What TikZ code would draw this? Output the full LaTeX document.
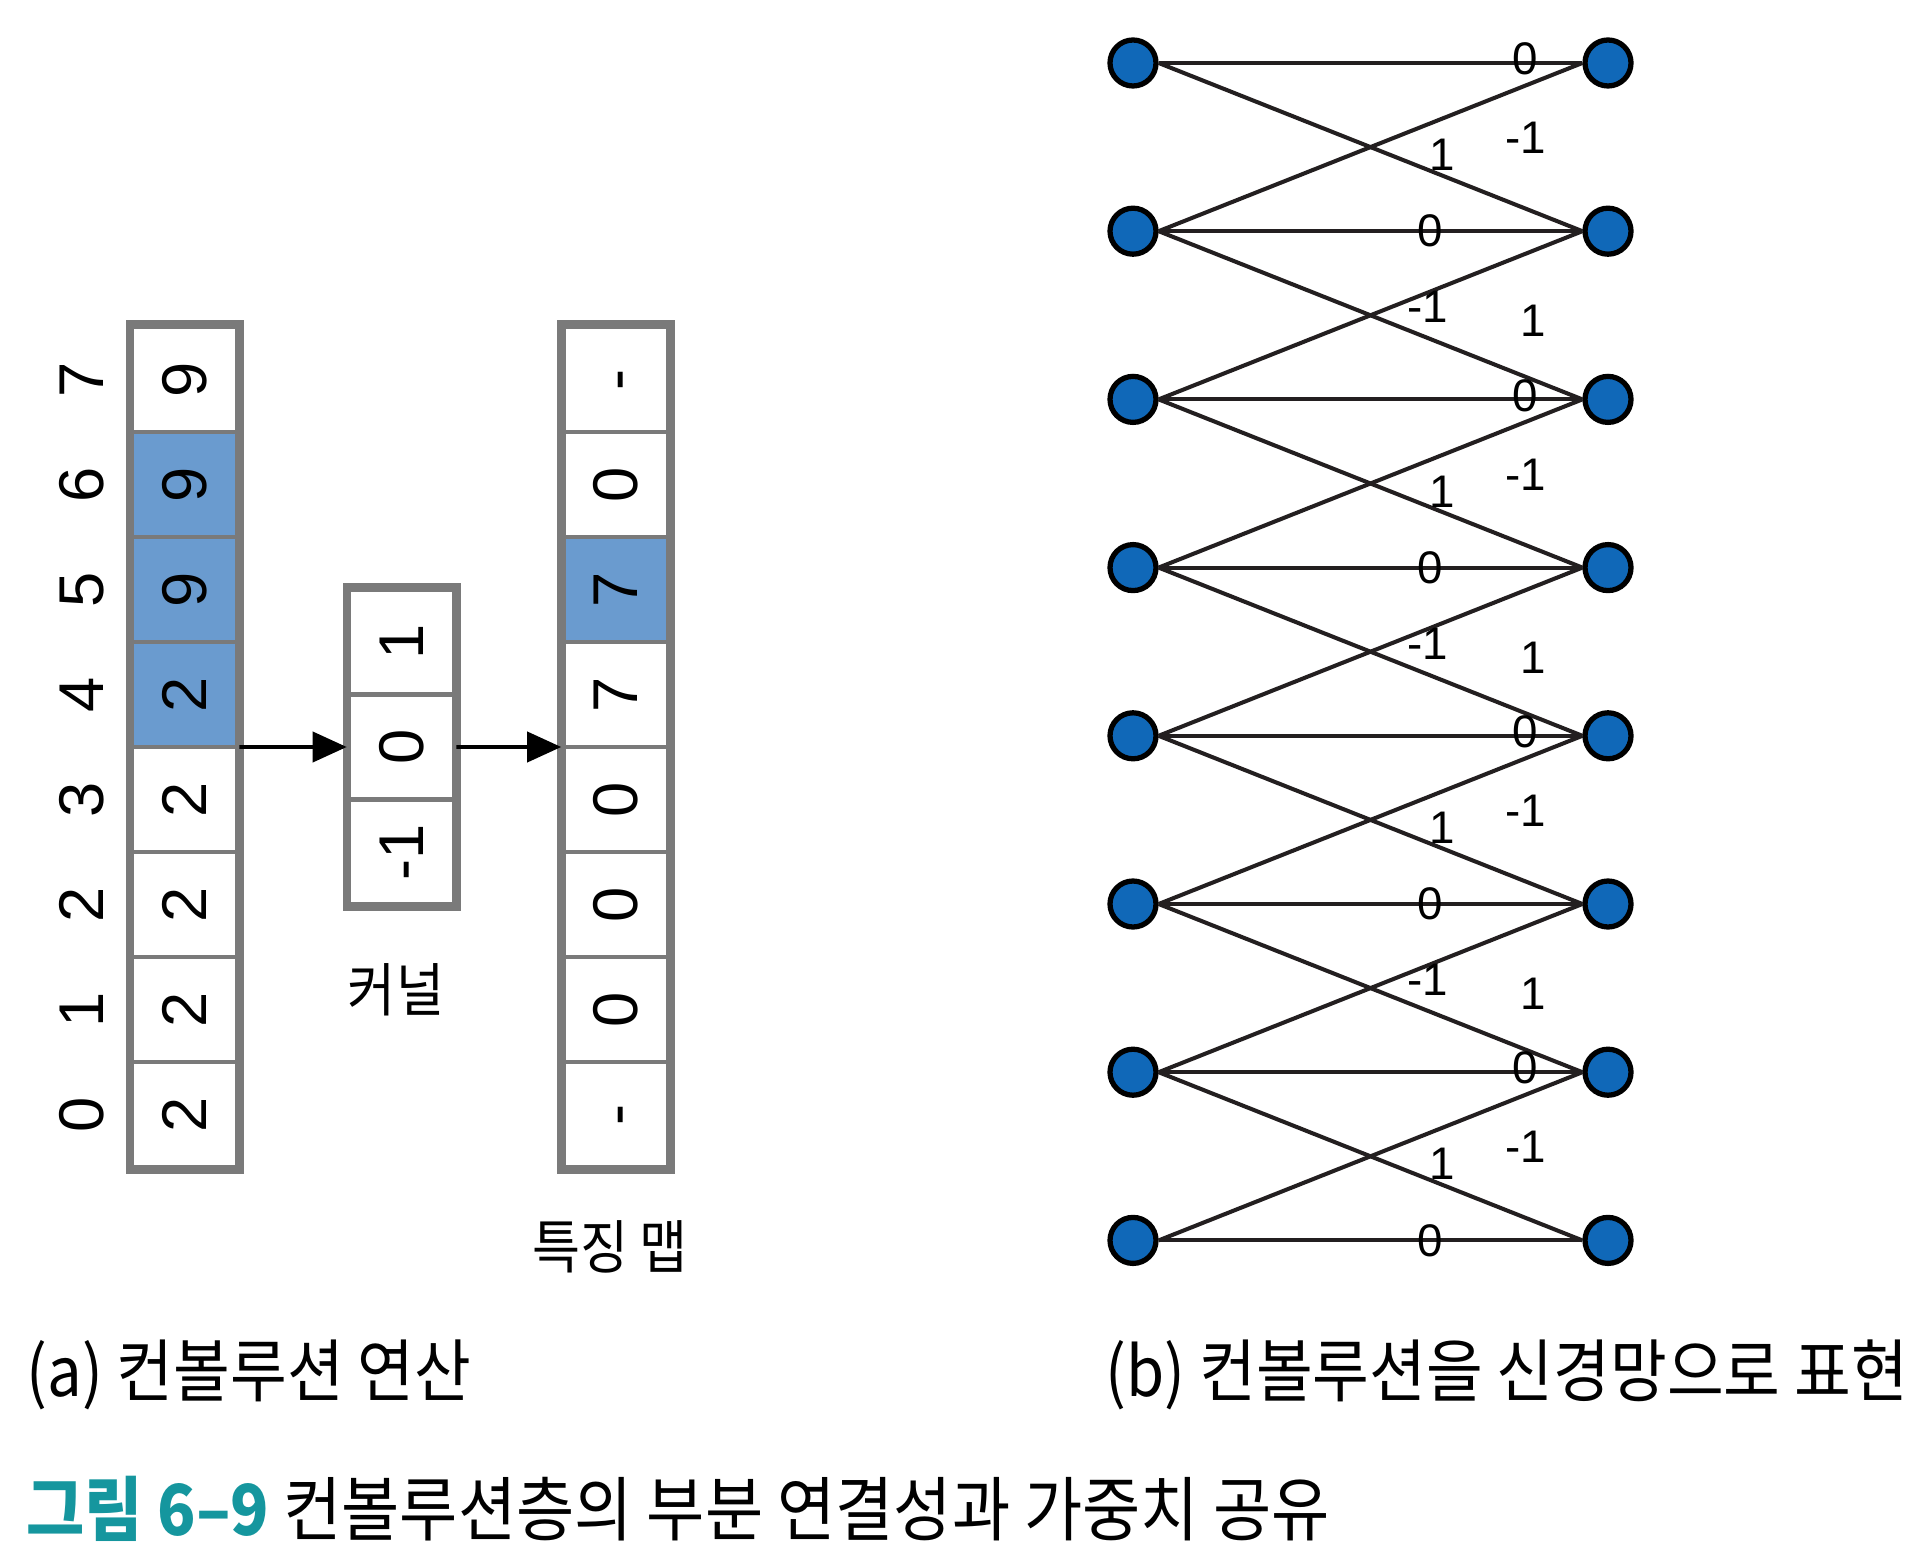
\documentclass[tikz,border=0pt]{standalone}
\usepackage{fontspec}
\setmainfont{Liberation Sans}
\newfontfamily\kr{Noto Sans CJK KR}[FakeStretch=0.9]
\usepackage{graphicx}
\usetikzlibrary{positioning, arrows.meta, calc}

\definecolor{cellblue}{RGB}{106,155,207}
\definecolor{cellgray}{RGB}{122,122,122}
\definecolor{nodeblue}{RGB}{16,104,184}
\definecolor{figteal}{RGB}{21,150,158}
\newcommand{\rt}[1]{\rotatebox{90}{\vphantom{0}#1}}

\begin{document}
\begin{tikzpicture}[
    cell/.style={draw=cellgray, line width=1.3pt, minimum size=1.05cm, inner sep=0pt, font=\fontsize{18}{20}\selectfont},
    frame/.style={draw=cellgray, line width=2.4pt},
    idx/.style={inner sep=0pt, font=\fontsize{18}{20}\selectfont},
    arr/.style={-{Triangle[length=0.34cm,width=0.3cm]}, line width=1.1pt},
    neuron/.style={circle, draw=black, fill=nodeblue, line width=1.5pt, minimum size=0.46cm, inner sep=0pt},
    wire/.style={line width=1.15pt, draw={rgb,255:red,35;green,31;blue,32}},
    wlabel/.style={inner sep=0pt, font=\fontsize{13}{14}\selectfont},
    kr label/.style={inner sep=0pt, font=\kr\fontsize{16.5}{18}\selectfont},
    caption/.style={inner sep=0pt, anchor=west, font=\kr\fontsize{19.5}{22}\selectfont}
]
    \useasboundingbox (0,0) rectangle (19.2,15.61);

    % (a) input, kernel, feature map
    \foreach \v/\c [count=\i from 0] in {2/white,2/white,2/white,2/white,2/cellblue,9/cellblue,9/cellblue,9/white} {
        \node[cell, fill=\c] (a\i) at (1.846,4.465+1.05*\i) {\rt{\v}};
        \node[idx] (n\i) at (0.82,4.465+1.05*\i) {\rt{\i}};
    }
    \draw[frame] (a0.south west) rectangle (a7.north east);

    \foreach \v [count=\i from 0] in {-1,0,1} {
        \node[cell, fill=white] (k\i) at (4.015,7.09+1.05*\i) {\rt{\v}};
    }
    \draw[frame] (k0.south west) rectangle (k2.north east);

    \foreach \v/\c [count=\i from 0] in {-/white,0/white,0/white,0/white,7/white,7/cellblue,0/white,-/white} {
        \node[cell, fill=\c] (f\i) at (6.16,4.465+1.05*\i) {\rt{\v}};
    }
    \draw[frame] (f0.south west) rectangle (f7.north east);

    \coordinate (aout) at ($(a3.east)!0.5!(a4.east)$);
    \coordinate (fin) at ($(f3.west)!0.5!(f4.west)$);
    \draw[arr] (aout) -- (k1.west);
    \draw[arr] (k1.east) -- (fin);

    \node[kr label] (kname) at (3.96,5.71) {커널};
    \node[kr label] (fname) at (6.10,3.14) {특징 맵};

    % (b) as a network
    \foreach \k in {0,...,7} {
        \pgfmathsetmacro\yy{14.98-1.682*\k}
        \node[neuron] (l\k) at (11.33,\yy) {};
        \node[neuron] (r\k) at (16.08,\yy) {};
    }
    \foreach \k in {0,...,7} {
        \draw[wire] (l\k.east) -- (r\k.west);
    }
    \foreach \k in {0,...,6} {
        \pgfmathtruncatemacro\n{\k+1}
        \draw[wire] (l\k.east) -- (r\n.west);
        \draw[wire] (l\n.east) -- (r\k.west);
    }
    \foreach \k in {0,...,7} {
        \pgfmathsetmacro\yy{14.98-1.682*\k}
        \ifodd\k
            \node[wlabel] (wz\k) at (14.30,\yy) {0};
            \ifnum\k<7
                \node[wlabel] (wm\k) at (14.28,\yy-0.76) {-1};
                \node[wlabel] (wp\k) at (15.33,\yy-0.90) {1};
            \fi
        \else
            \node[wlabel] (wz\k) at (15.25,\yy+0.04) {0};
            \node[wlabel] (wm\k) at (15.26,\yy-0.75) {-1};
            \node[wlabel] (wp\k) at (14.42,\yy-0.92) {1};
        \fi
    }

    % captions
    \node[caption] (capa) at (0.26,1.86) {(a) 컨볼루션 연산};
    \node[caption] (capb) at (11.05,1.86) {(b) 컨볼루션을 신경망으로 표현};
    \node[caption, font=\kr\fontsize{20}{22}\selectfont] (fig) at (0.26,0.525) {{\bfseries\color{figteal}그림 6–9} 컨볼루션층의 부분 연결성과 가중치 공유};
\end{tikzpicture}
\end{document}
